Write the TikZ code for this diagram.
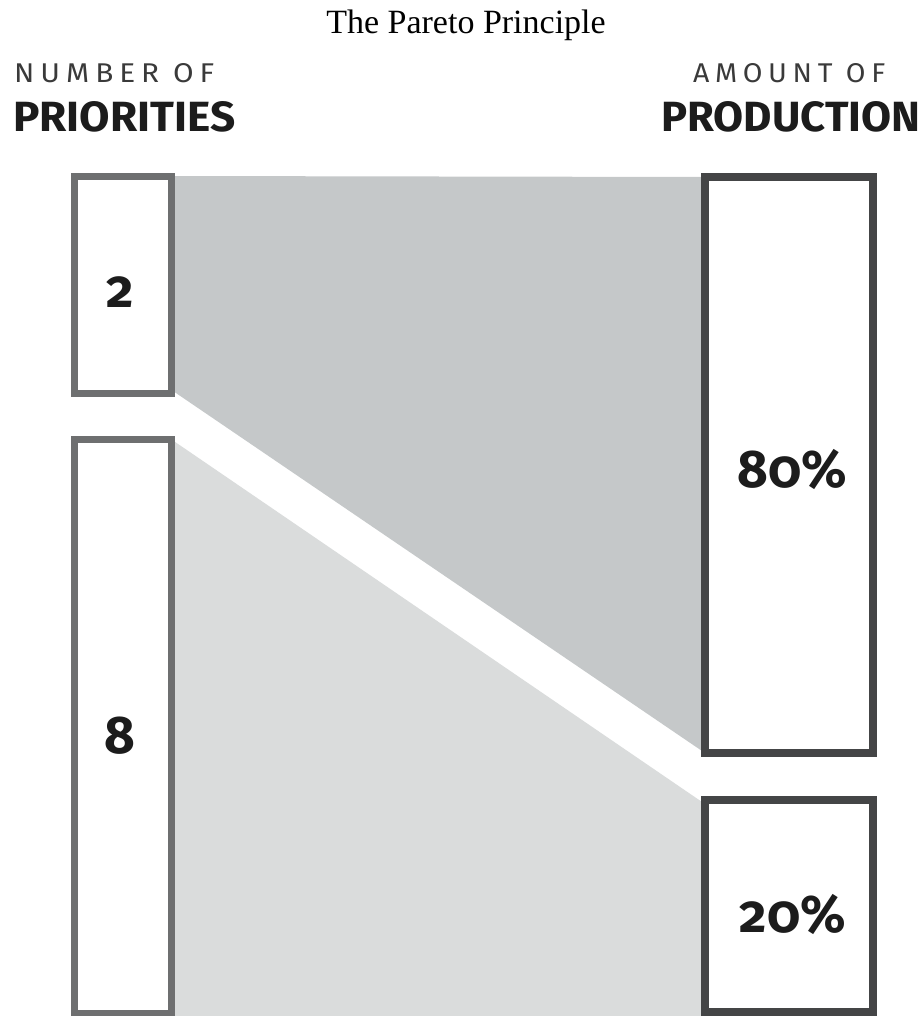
\documentclass[tikz,border=0pt]{standalone}
\usepackage{fontspec}
\setmainfont{Liberation Serif}
\newfontfamily\firanum[Numbers=OldStyle]{Fira Sans}
\newfontfamily\firahead[LetterSpace=20]{Fira Sans}
\newfontfamily\firabold{Fira Sans}
\definecolor{leftedge}{HTML}{6E6F70}
\definecolor{rightedge}{HTML}{444546}
\definecolor{darkband}{HTML}{C5C8C9}
\definecolor{lightband}{HTML}{DADCDC}
\definecolor{inktext}{HTML}{1C1C1C}
\definecolor{headtext}{HTML}{3A3A3A}
\tikzset{
  leftbox/.style={draw=leftedge, fill=white, line width=7pt, inner sep=0pt, outer sep=0pt, minimum width=97pt},
  rightbox/.style={draw=rightedge, fill=white, line width=8pt, inner sep=0pt, outer sep=0pt, minimum width=168pt},
  numlabel/.style={anchor=base, inner sep=0pt, text=inktext, font=\firanum\bfseries\fontsize{53}{60}\selectfont},
  thinhead/.style={anchor=base west, inner sep=0pt, text=headtext},
  boldhead/.style={anchor=base west, inner sep=0pt, text=inktext},
}
\begin{document}
\begin{tikzpicture}[x=1pt,y=-1pt]
\useasboundingbox (0,0) rectangle (921,1016);
% title
\node[anchor=base, inner sep=0pt, font=\fontsize{34}{40}\selectfont] (title) at (466,34) {The Pareto Principle};
% headers
\node[thinhead] (numof) at (14,83) {\resizebox{200pt}{19pt}{\firahead NUMBER OF}};
\node[boldhead] (prio) at (13,132) {\resizebox{222pt}{30pt}{\firabold\bfseries PRIORITIES}};
\node[thinhead] (amtof) at (693,83) {\resizebox{192pt}{19pt}{\firahead AMOUNT OF}};
\node[boldhead] (prod) at (661,132) {\resizebox{259pt}{30pt}{\firabold\bfseries PRODUCTION}};
% box placement
\coordinate (c2) at (123,285);
\coordinate (c8) at (123,726.25);
\coordinate (c80) at (789,465);
\coordinate (c20) at (789,906);
% invisible outlines used to place the bands
\path (c2) node[leftbox, draw=none, fill=none, minimum height=217pt] (b2p) {};
\path (c8) node[leftbox, draw=none, fill=none, minimum height=573.5pt] (b8p) {};
\path (c80) node[rightbox, draw=none, fill=none, minimum height=576pt] (b80p) {};
\path (c20) node[rightbox, draw=none, fill=none, minimum height=212pt] (b20p) {};
\fill[darkband] ([yshift=0.5pt]b2p.north east) -- (b80p.north west) -- (b80p.south west) -- ([yshift=3.5pt]b2p.south east) -- cycle;
\fill[lightband] (b8p.north east) -- ([yshift=-4pt]b20p.north west) -- (b20p.west |- 0,1016) -- (b8p.east |- 0,1016) -- cycle;
% boxes
\node[leftbox, minimum height=217pt] (b2) at (c2) {};
\node[leftbox, minimum height=573.5pt] (b8) at (c8) {};
\node[rightbox, minimum height=576pt] (b80) at (c80) {};
\node[rightbox, minimum height=212pt] (b20) at (c20) {};
% numbers
\node[numlabel] (n2) at (120,307) {2};
\node[numlabel] (n8) at (120,753) {8};
\node[numlabel] (n80) at (792,487) {80\%};
\node[numlabel] (n20) at (793,932) {20\%};
\end{tikzpicture}
\end{document}
